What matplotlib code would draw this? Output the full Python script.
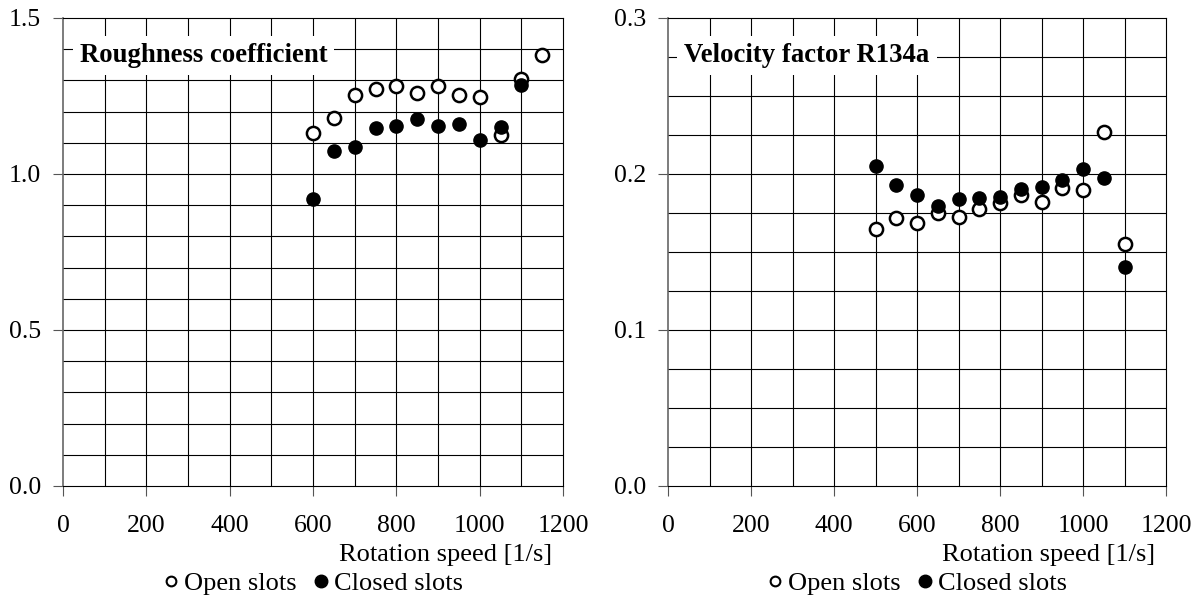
import matplotlib
matplotlib.use("Agg")
import matplotlib.pyplot as plt
from matplotlib.lines import Line2D
import numpy as np

plt.rcParams['font.family'] = ['Liberation Serif', 'DejaVu Serif']

# Roughness coefficient vs rotation speed
rough_open_x = [600, 650, 700, 750, 800, 850, 900, 950, 1000, 1050, 1100, 1150]
rough_open_y = [1.13, 1.18, 1.252, 1.274, 1.281, 1.261, 1.281, 1.254, 1.248, 1.125, 1.306, 1.381]
rough_closed_x = [600, 650, 700, 750, 800, 850, 900, 950, 1000, 1050, 1100]
rough_closed_y = [0.921, 1.075, 1.085, 1.147, 1.155, 1.177, 1.154, 1.161, 1.109, 1.152, 1.284]

# Velocity factor R134a vs rotation speed
vel_x = [500, 550, 600, 650, 700, 750, 800, 850, 900, 950, 1000, 1050, 1100]
vel_open_y = [0.1647, 0.1718, 0.1685, 0.1748, 0.1726, 0.1774, 0.1817, 0.1866, 0.1819, 0.1909, 0.1897, 0.2267, 0.155]
vel_closed_y = [0.205, 0.1927, 0.1866, 0.1793, 0.1838, 0.1849, 0.1851, 0.1903, 0.1916, 0.1963, 0.2034, 0.1976, 0.1407]

x_ticks = [0, 200, 400, 600, 800, 1000, 1200]
rough_ticks = [0.0, 0.5, 1.0, 1.5]
vel_ticks = [0.0, 0.1, 0.2, 0.3]

fig = plt.figure(figsize=(12, 6.08), dpi=100)
ax1 = fig.add_axes([63 / 1200, 122 / 608, 500 / 1200, 468 / 608])
ax2 = fig.add_axes([668 / 1200, 122 / 608, 498 / 1200, 468 / 608])

FS = 18.5
MS = 9.5


def style(ax, ymax, ystep, yticks, title):
    ax.set_xlim(0, 1200)
    ax.set_ylim(0, ymax)
    for x in np.arange(100, 1200, 100):
        ax.axvline(x, color='black', lw=0.8, zorder=1)
    for y in np.arange(ystep, ymax - ystep / 2, ystep):
        ax.axhline(y, color='black', lw=0.8, zorder=1)
    ax.set_xticks(x_ticks)
    ax.set_xticklabels([str(v) for v in x_ticks], fontsize=FS)
    ax.set_yticks(yticks)
    ax.set_yticklabels([f"{v:.1f}" for v in yticks], fontsize=FS)
    ax.tick_params(axis='both', direction='out', length=7, width=0.8, color='#555555')
    ax.tick_params(axis='x', pad=14)
    ax.tick_params(axis='y', pad=9)
    for s in ax.spines.values():
        s.set_color('black')
        s.set_linewidth(0.8)
    ax.spines['left'].set_color('#666666')
    ax.spines['left'].set_linewidth(1.2)
    ax.text(0.033, 0.906, title, transform=ax.transAxes, fontsize=19.3, fontweight='bold',
            ha='left', va='baseline', zorder=3,
            bbox=dict(facecolor='white', edgecolor='none', pad=5))
    ax.set_xlabel('Rotation speed [1/s]', fontsize=19, loc='right')
    ax.xaxis.set_label_coords(0.978, -0.147)
    ax.xaxis.label.set_va('center')
    handles = [
        Line2D([], [], ls='none', marker='o', mfc='white', mec='black', mew=1.5, ms=7),
        Line2D([], [], ls='none', marker='o', mfc='black', mec='black', ms=9),
    ]
    ax.legend(handles, ['Open slots', 'Closed slots'], loc='upper center',
              bbox_to_anchor=(0.5, -0.155), ncol=2, frameon=False, fontsize=19,
              handlelength=0.6, handletextpad=0.2, columnspacing=0.6, borderpad=0)


style(ax1, 1.5, 0.1, rough_ticks, 'Roughness coefficient')
ax1.plot(rough_open_x, rough_open_y, ls='none', marker='o', mfc='white', mec='black',
         mew=1.8, ms=MS, zorder=4)
ax1.plot(rough_closed_x, rough_closed_y, ls='none', marker='o', mfc='black', mec='black',
         ms=MS, zorder=5)

style(ax2, 0.3, 0.025, vel_ticks, 'Velocity factor R134a')
ax2.plot(vel_x, vel_open_y, ls='none', marker='o', mfc='white', mec='black',
         mew=1.8, ms=MS, zorder=4)
ax2.plot(vel_x, vel_closed_y, ls='none', marker='o', mfc='black', mec='black',
         ms=MS, zorder=5)

fig.savefig('out.png', dpi=100, facecolor='white')
